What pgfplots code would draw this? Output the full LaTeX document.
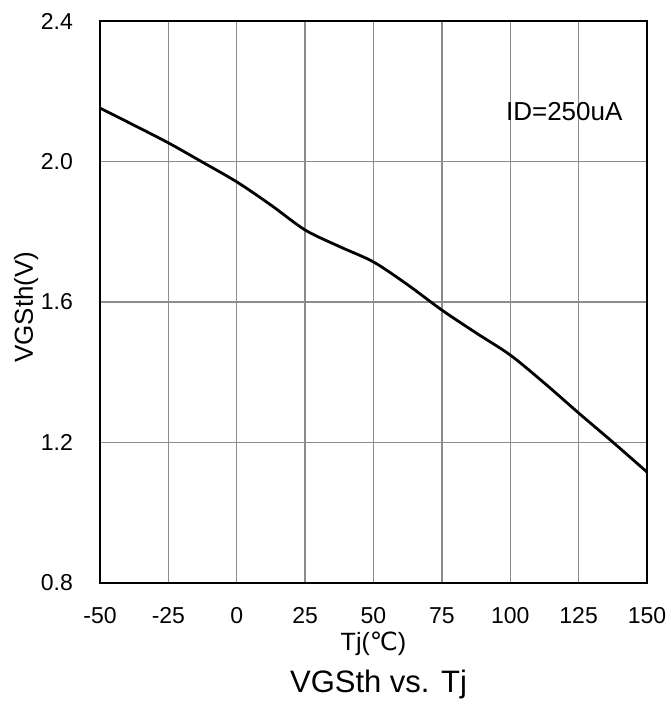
\documentclass[border=0pt]{standalone}
\usepackage{pgfplots}
\pgfplotsset{compat=1.18}
\usepackage{fontspec}
\setmainfont{Liberation Sans}
\newfontfamily\djv{DejaVu Sans}
\begin{document}
\begin{tikzpicture}
\begin{axis}[
  at={(0,0)}, anchor=south west,
  scale only axis, width=547bp, height=562bp,
  xmin=-50, xmax=150, ymin=0.8, ymax=2.4,
  xtick={-50,-25,0,25,50,75,100,125,150},
  xticklabels={-50,-25,0,25,50,75,100,125,150},
  ytick={0.8,1.2,1.6,2.0,2.4},
  yticklabels={0.8,1.2,1.6,2.0,2.4},
  major tick length=0pt,
  grid=major,
  major grid style={draw=black!45, line width=1.3bp},
  axis line style={black, line width=1.4bp},
  xticklabel style={font=\fontsize{23bp}{27bp}\selectfont, anchor=north, inner sep=0pt, yshift=-24bp},
  yticklabel style={font=\fontsize{23bp}{27bp}\selectfont, anchor=east, inner sep=0pt, xshift=-27bp},
  xlabel={Tj({\djv ℃})},
  xlabel style={at={([yshift=-67bp]axis description cs:0.5,0)}, anchor=base, inner sep=0pt, font=\fontsize{25bp}{29bp}\selectfont},
  ylabel={VGSth(V)},
  ylabel style={at={([xshift=-67bp,yshift=-5bp]axis description cs:0,0.5)}, anchor=base, inner sep=0pt, font=\fontsize{26bp}{30bp}\selectfont},
  title={VGSth vs. Tj},
  title style={at={([xshift=5bp,yshift=-115bp]axis description cs:0.5,0)}, anchor=base, inner sep=0pt, font=\fontsize{31bp}{35bp}\selectfont},
]
\addplot[black, line width=2.8bp, smooth, tension=0.5] coordinates {
(-50,2.152) (-37.5,2.103) (-25,2.053) (-12.5,1.998) (0,1.942) (12.5,1.876)
(25,1.805) (37.5,1.758) (50,1.714) (62.5,1.649) (75,1.577) (87.5,1.512)
(100,1.449) (112.5,1.369) (125,1.284) (137.5,1.201) (150,1.116)
};
\node[anchor=base west, inner sep=0pt, font=\fontsize{26bp}{30bp}\selectfont] at (axis cs:98.4,2.118) {ID=250uA};
\end{axis}
\pgfresetboundingbox
\path (-100bp,-121bp) rectangle (571bp,583bp);
\end{tikzpicture}
\end{document}
